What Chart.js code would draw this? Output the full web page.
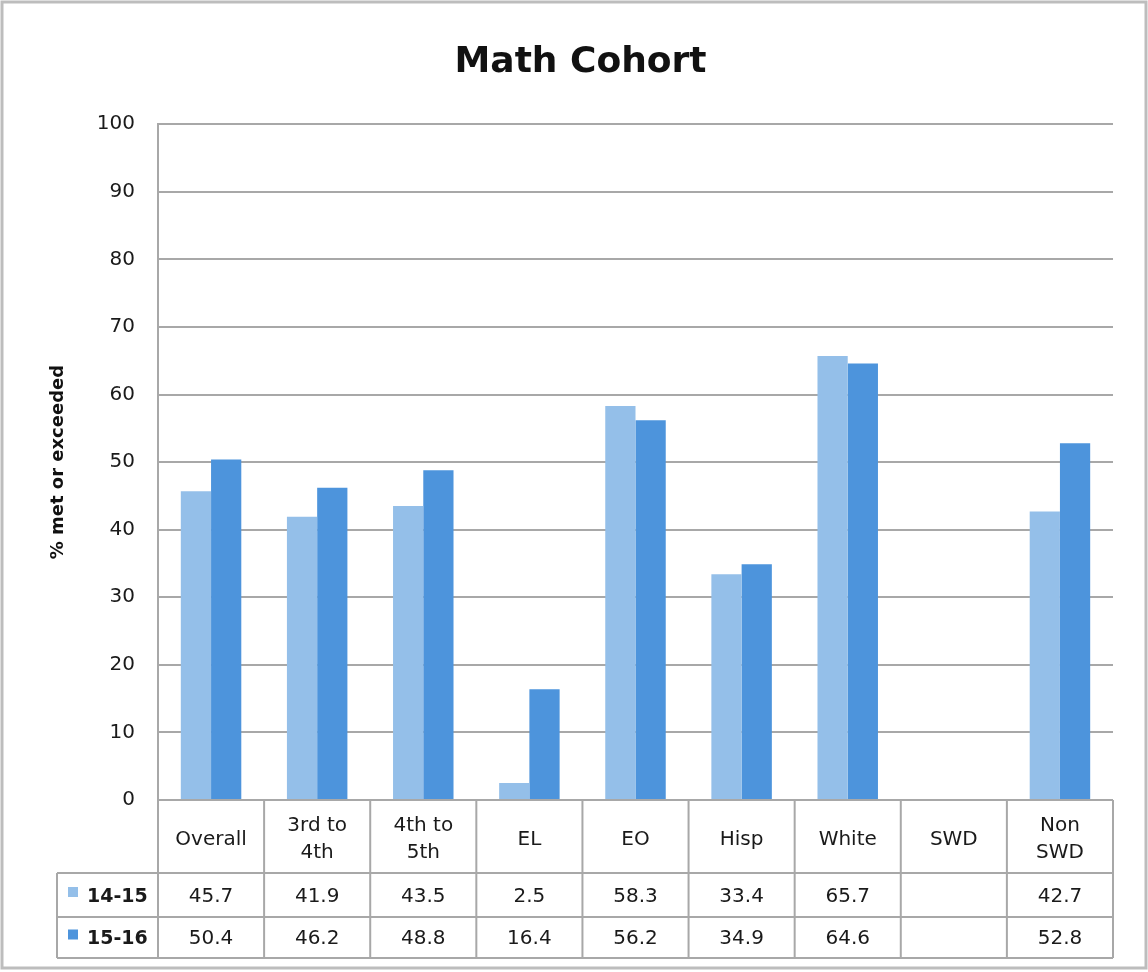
<!DOCTYPE html>
<html>
<head>
<meta charset="utf-8">
<script src="https://cdn.jsdelivr.net/npm/chart.js@4.4.0/dist/chart.umd.min.js"></script>
<style>
  html, body { margin: 0; padding: 0; background: #fff; }
  #wrap { width: 1148px; height: 972px; }
</style>
</head>
<body>
<div id="wrap"><canvas id="mathChart" width="1148" height="972"></canvas></div>
<script>
const categories = ['Overall', '3rd to\n4th', '4th to\n5th', 'EL', 'EO', 'Hisp', 'White', 'SWD', 'Non\nSWD'];
const values1415 = [45.7, 41.9, 43.5, 2.5, 58.3, 33.4, 65.7, null, 42.7];
const values1516 = [50.4, 46.2, 48.8, 16.4, 56.2, 34.9, 64.6, null, 52.8];
const yTicks = [0, 10, 20, 30, 40, 50, 60, 70, 80, 90, 100];

const lightBlue = '#94bfe9';
const darkBlue = '#4d94dc';
const lineGray = '#a8a8a8';
const font = '"DejaVu Sans", Verdana, sans-serif';

// frame + data table under the plot
const tablePlugin = {
    id: 'dataTable',
    beforeDraw(chart) {
        const c = chart.ctx;
        c.save();
        c.fillStyle = '#fff';
        c.fillRect(0, 0, chart.width, chart.height);
        c.strokeStyle = '#bdbdbd';
        c.lineWidth = 3;
        c.strokeRect(2, 2, chart.width - 4, 966);
        c.restore();
    },
    afterDraw(chart) {
        const c = chart.ctx;
        const area = chart.chartArea;
        const x = chart.scales.x;
        const top = area.bottom;
        const rowH = [73, 44, 41];
        const legLeft = 57;
        const y1 = top + rowH[0];
        const y2 = y1 + rowH[1];
        const y3 = y2 + rowH[2];
        const step = (area.right - area.left) / categories.length;

        c.save();
        c.strokeStyle = lineGray;
        c.lineWidth = 2;
        c.beginPath();
        c.moveTo(area.left, top); c.lineTo(area.right, top);
        c.moveTo(legLeft, y1); c.lineTo(area.right, y1);
        c.moveTo(legLeft, y2); c.lineTo(area.right, y2);
        c.moveTo(legLeft, y3); c.lineTo(area.right, y3);
        c.moveTo(legLeft, y1); c.lineTo(legLeft, y3);
        for (let i = 0; i <= categories.length; i++) {
            const lx = area.left + i * step;
            c.moveTo(lx, top); c.lineTo(lx, y3);
        }
        c.stroke();

        c.fillStyle = '#1a1a1a';
        c.textAlign = 'center';
        c.textBaseline = 'middle';
        c.font = '20px ' + font;
        categories.forEach((cat, i) => {
            const cx = x.getPixelForValue(i);
            const lines = cat.split('\n');
            const mid = top + rowH[0] / 2 + 3;
            lines.forEach((ln, j) => {
                const ly = mid + (j - (lines.length - 1) / 2) * 27;
                c.fillText(ln, cx, ly);
            });
            if (values1415[i] !== null) c.fillText(values1415[i].toFixed(1), cx, y1 + rowH[1] / 2 + 2);
            if (values1516[i] !== null) c.fillText(values1516[i].toFixed(1), cx, y2 + rowH[2] / 2 + 1);
        });

        const sets = chart.data.datasets;
        [y1 + rowH[1] / 2, y2 + rowH[2] / 2].forEach((ry, k) => {
            c.fillStyle = sets[k].backgroundColor;
            c.fillRect(68, ry - 8, 10, 10);
            c.fillStyle = '#1a1a1a';
            c.textAlign = 'left';
            c.font = 'bold 19px ' + font;
            c.fillText(sets[k].label, 87, ry + 2);
        });
        c.restore();
    }
};

new Chart(document.getElementById('mathChart'), {
    type: 'bar',
    data: {
        labels: categories,
        datasets: [{
            label: '14-15',
            data: values1415,
            backgroundColor: lightBlue,
            categoryPercentage: 0.57,
            barPercentage: 1
        }, {
            label: '15-16',
            data: values1516,
            backgroundColor: darkBlue,
            categoryPercentage: 0.57,
            barPercentage: 1
        }]
    },
    options: {
        responsive: false,
        animation: false,
        layout: {
            padding: { left: 48, right: 35, top: 12, bottom: 0 }
        },
        plugins: {
            legend: { display: false },
            tooltip: { enabled: false },
            title: {
                display: true,
                text: 'Math Cohort',
                color: '#111',
                font: { family: font, size: 36, weight: 'bold' },
                padding: { top: 29, bottom: 40 }
            }
        },
        scales: {
            x: {
                ticks: { display: false },
                grid: { display: false },
                border: { display: false },
                afterFit(scale) { scale.height = 972 - 800; }
            },
            y: {
                min: 0,
                max: 100,
                afterBuildTicks(scale) { scale.ticks = yTicks.map(v => ({ value: v })); },
                ticks: {
                    color: '#1a1a1a',
                    font: { family: font, size: 20 },
                    padding: 23
                },
                grid: { color: lineGray, lineWidth: 2, drawTicks: false },
                border: { display: true, color: lineGray, width: 2 },
                title: {
                    display: true,
                    text: '% met or exceeded',
                    color: '#111',
                    font: { family: font, size: 18, weight: 'bold' },
                    padding: { top: 0, bottom: 10 }
                },
                afterFit(scale) { scale.width = 158 - 48; }
            }
        }
    },
    plugins: [tablePlugin]
});
</script>
</body>
</html>
